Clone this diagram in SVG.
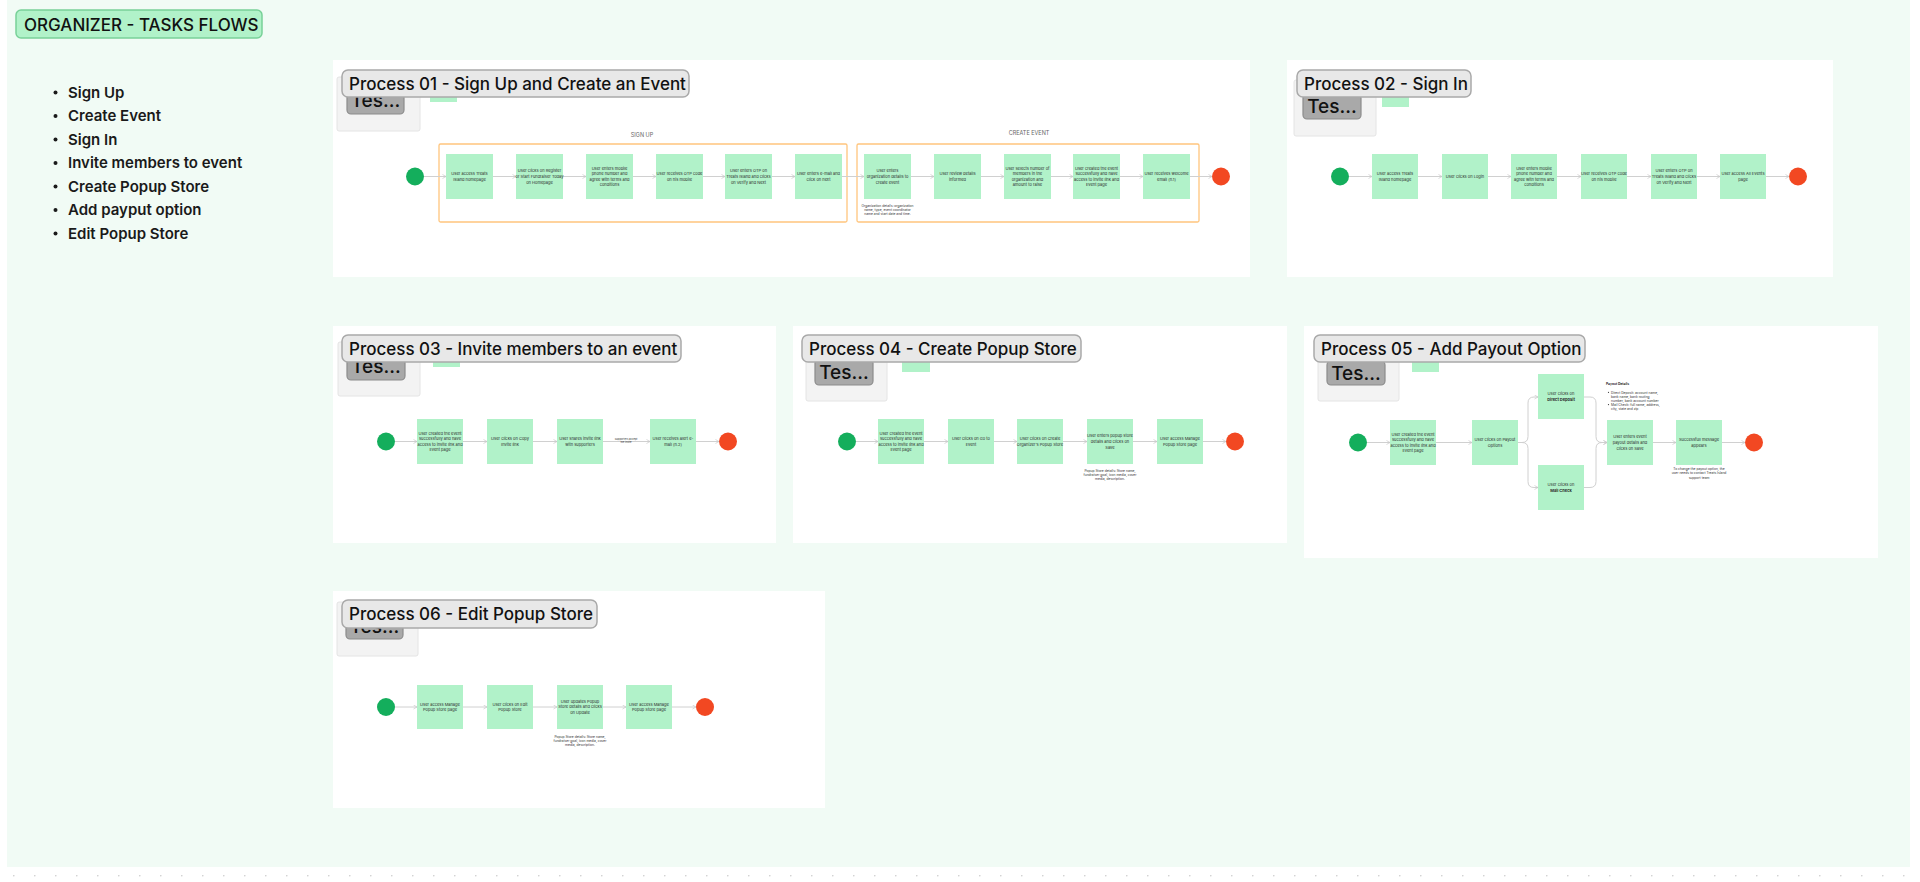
<svg xmlns="http://www.w3.org/2000/svg" width="1920" height="882" viewBox="0 0 1920 882">
<defs>
<marker id="arr" markerWidth="5" markerHeight="5" refX="4" refY="2.5" orient="auto" markerUnits="userSpaceOnUse">
<path d="M0.5,0.5 L4,2.5 L0.5,4.5" fill="none" stroke="#c8c8c8" stroke-width="0.7"/>
</marker>
<pattern id="dots" x="13" y="875" width="21" height="21" patternUnits="userSpaceOnUse">
<circle cx="0.8" cy="0.8" r="0.8" fill="#c9c9c9"/>
</pattern>
</defs>
<style>
text{font-family:Inter,"Noto Sans","Liberation Sans",sans-serif}
.bg{fill:#f1fbf5}
.frame{fill:#ffffff}
.panel{fill:#f3f3f3;stroke:#e4e4e4;stroke-width:1}
.tes{fill:#a9a9a9;stroke:#8c8c8c;stroke-width:1.2}
.tes-t{font-size:19px;font-weight:500;fill:#111;text-anchor:middle}
.mini{fill:#b1f2c9}
.lbl{fill:#e8e8e8;stroke:#a9a9a9;stroke-width:1.5}
.lbl-t{font-size:17px;font-weight:500;fill:#111}
.node{fill:#b1f2c9}
.nt{font-size:4px;fill:#2a2a2a;text-anchor:middle}
.nb{font-weight:700}
.note{font-size:3.3px;fill:#333;text-anchor:middle}
.notel{font-size:3.3px;fill:#333}
.start{fill:#14ae5c}
.end{fill:#f24822}
.conn{fill:none;stroke:#d0d0d0;stroke-width:1;marker-end:url(#arr)}
.grp{fill:none;stroke:#ffc57d;stroke-width:1.3}
.grp-t{font-size:5.5px;fill:#666;text-anchor:middle}
.bul{font-size:15px;font-weight:600;fill:#1a1a1a}
</style>

<rect x="0" y="0" width="1920" height="882" fill="#ffffff"/>
<rect x="0" y="874" width="1920" height="8" fill="url(#dots)"/>
<rect class="bg" x="7" y="0" width="1903" height="867"/>

<g id="title">
<rect x="16" y="10" width="246" height="28" rx="5" fill="#b1f2c9" stroke="#78d198" stroke-width="1.5"/>
<text x="24" y="30.5" font-size="17" font-weight="500" fill="#111">ORGANIZER - TASKS FLOWS</text>
</g>

<g id="task-list">
<circle cx="55.5" cy="92.5" r="2" fill="#1a1a1a"/><text class="bul" x="68" y="97.5">Sign Up</text>
<circle cx="55.5" cy="116" r="2" fill="#1a1a1a"/><text class="bul" x="68" y="121">Create Event</text>
<circle cx="55.5" cy="139.5" r="2" fill="#1a1a1a"/><text class="bul" x="68" y="144.5">Sign In</text>
<circle cx="55.5" cy="163" r="2" fill="#1a1a1a"/><text class="bul" x="68" y="168">Invite members to event</text>
<circle cx="55.5" cy="186.5" r="2" fill="#1a1a1a"/><text class="bul" x="68" y="191.5">Create Popup Store</text>
<circle cx="55.5" cy="210" r="2" fill="#1a1a1a"/><text class="bul" x="68" y="215">Add payput option</text>
<circle cx="55.5" cy="233.5" r="2" fill="#1a1a1a"/><text class="bul" x="68" y="238.5">Edit Popup Store</text>
</g>

<!-- ================= PROCESS 01 ================= -->
<g id="process-01">
<rect class="frame" x="333" y="60" width="917" height="217"/>
<rect class="panel" x="337" y="77" width="83" height="54" rx="2"/>
<rect class="tes" x="347" y="86" width="57" height="28" rx="4"/>
<text class="tes-t" x="375.5" y="107">Tes...</text>
<rect class="mini" x="430" y="90" width="27" height="12"/>
<rect class="lbl" x="342" y="70" width="347" height="27" rx="6"/>
<text class="lbl-t" x="349" y="90">Process 01 - Sign Up and Create an Event</text>
<text class="grp-t" x="642" y="137">SIGN UP</text>
<rect class="grp" x="439" y="144" width="408" height="78" rx="1.5"/>
<text class="grp-t" x="1029" y="135">CREATE EVENT</text>
<rect class="grp" x="857" y="144" width="342" height="78" rx="1.5"/>
</g>
<g id="p01-connectors">
<path class="conn" d="M424,176.5 H446"/>
<path class="conn" d="M493,176.5 H516"/>
<path class="conn" d="M563,176.5 H586"/>
<path class="conn" d="M633,176.5 H656"/>
<path class="conn" d="M703,176.5 H725"/>
<path class="conn" d="M772,176.5 H795"/>
<path class="conn" d="M842,176.5 H864"/>
<path class="conn" d="M911,176.5 H934"/>
<path class="conn" d="M981,176.5 H1004"/>
<path class="conn" d="M1051,176.5 H1073"/>
<path class="conn" d="M1120,176.5 H1143"/>
<path class="conn" d="M1190,176.5 H1212"/>
</g>
<g id="p01-start"><circle class="start" cx="415" cy="176.5" r="9"/></g>
<g id="p01-n1"><rect class="node" x="446" y="154" width="47" height="45"/><text class="nt" y="175.1"><tspan x="469.5">User access Treats</tspan><tspan x="469.5" dy="5.6">Island homepage</tspan></text></g>
<g id="p01-n2"><rect class="node" x="516" y="154" width="47" height="45"/><text class="nt" y="172.3"><tspan x="539.5">User clicks on Register</tspan><tspan x="539.5" dy="5.6">or Start Fundraiser Today</tspan><tspan x="539.5" dy="5.6">on Homepage</tspan></text></g>
<g id="p01-n3"><rect class="node" x="586" y="154" width="47" height="45"/><text class="nt" y="169.5"><tspan x="609.5">User enters mobile</tspan><tspan x="609.5" dy="5.6">phone number and</tspan><tspan x="609.5" dy="5.6">agree with terms and</tspan><tspan x="609.5" dy="5.6">conditions</tspan></text></g>
<g id="p01-n4"><rect class="node" x="656" y="154" width="47" height="45"/><text class="nt" y="175.1"><tspan x="679.5">User receives OTP code</tspan><tspan x="679.5" dy="5.6">on his mobile</tspan></text></g>
<g id="p01-n5"><rect class="node" x="725" y="154" width="47" height="45"/><text class="nt" y="172.3"><tspan x="748.5">User enters OTP on</tspan><tspan x="748.5" dy="5.6">Treats Island and clicks</tspan><tspan x="748.5" dy="5.6">on Verify and Next</tspan></text></g>
<g id="p01-n6"><rect class="node" x="795" y="154" width="47" height="45"/><text class="nt" y="175.1"><tspan x="818.5">User enters e-mail and</tspan><tspan x="818.5" dy="5.6">click on next</tspan></text></g>
<g id="p01-n7"><rect class="node" x="864" y="154" width="47" height="45"/><text class="nt" y="172.3"><tspan x="887.5">User enters</tspan><tspan x="887.5" dy="5.6">organization details to</tspan><tspan x="887.5" dy="5.6">create event</tspan></text>
<text class="note" y="206.5"><tspan x="887.5">Organization details: organization</tspan><tspan x="887.5" dy="4.3">name, type, event coordinator</tspan><tspan x="887.5" dy="4.3">name and start date and time.</tspan></text></g>
<g id="p01-n8"><rect class="node" x="934" y="154" width="47" height="45"/><text class="nt" y="175.1"><tspan x="957.5">User review details</tspan><tspan x="957.5" dy="5.6">informed</tspan></text></g>
<g id="p01-n9"><rect class="node" x="1004" y="154" width="47" height="45"/><text class="nt" y="169.5"><tspan x="1027.5">User selects number of</tspan><tspan x="1027.5" dy="5.6">members in the</tspan><tspan x="1027.5" dy="5.6">organization and</tspan><tspan x="1027.5" dy="5.6">amount to raise</tspan></text></g>
<g id="p01-n10"><rect class="node" x="1073" y="154" width="47" height="45"/><text class="nt" y="169.5"><tspan x="1096.5">User created the event</tspan><tspan x="1096.5" dy="5.6">successfully and have</tspan><tspan x="1096.5" dy="5.6">access to invite link and</tspan><tspan x="1096.5" dy="5.6">Event page</tspan></text></g>
<g id="p01-n11"><rect class="node" x="1143" y="154" width="47" height="45"/><text class="nt" y="175.1"><tspan x="1166.5">User receives welcome</tspan><tspan x="1166.5" dy="5.6">email (n.1)</tspan></text></g>
<g id="p01-end"><circle class="end" cx="1221" cy="176.5" r="9"/></g>

<!-- ================= PROCESS 02 ================= -->
<g id="process-02">
<rect class="frame" x="1287" y="60" width="546" height="217"/>
<rect class="panel" x="1294" y="80" width="82" height="56" rx="2"/>
<rect class="tes" x="1303" y="94" width="58" height="25" rx="4"/>
<text class="tes-t" x="1332" y="113">Tes...</text>
<rect class="mini" x="1382" y="92" width="27" height="15"/>
<rect class="lbl" x="1297" y="70" width="174" height="27" rx="6"/>
<text class="lbl-t" x="1304" y="90">Process 02 - Sign In</text>
</g>
<g id="p02-connectors">
<path class="conn" d="M1349,176.5 H1372"/>
<path class="conn" d="M1418,176.5 H1442"/>
<path class="conn" d="M1488,176.5 H1511"/>
<path class="conn" d="M1557,176.5 H1581"/>
<path class="conn" d="M1627,176.5 H1651"/>
<path class="conn" d="M1697,176.5 H1720"/>
<path class="conn" d="M1766,176.5 H1789"/>
</g>
<g id="p02-start"><circle class="start" cx="1340" cy="176.5" r="9"/></g>
<g id="p02-n1"><rect class="node" x="1372" y="154" width="46" height="45"/><text class="nt" y="175.1"><tspan x="1395">User access Treats</tspan><tspan x="1395" dy="5.6">Island homepage</tspan></text></g>
<g id="p02-n2"><rect class="node" x="1442" y="154" width="46" height="45"/><text class="nt" y="177.9"><tspan x="1465">User clicks on Login</tspan></text></g>
<g id="p02-n3"><rect class="node" x="1511" y="154" width="46" height="45"/><text class="nt" y="169.5"><tspan x="1534">User enters mobile</tspan><tspan x="1534" dy="5.6">phone number and</tspan><tspan x="1534" dy="5.6">agree with terms and</tspan><tspan x="1534" dy="5.6">conditions</tspan></text></g>
<g id="p02-n4"><rect class="node" x="1581" y="154" width="46" height="45"/><text class="nt" y="175.1"><tspan x="1604">User receives OTP code</tspan><tspan x="1604" dy="5.6">on his mobile</tspan></text></g>
<g id="p02-n5"><rect class="node" x="1651" y="154" width="46" height="45"/><text class="nt" y="172.3"><tspan x="1674">User enters OTP on</tspan><tspan x="1674" dy="5.6">Treats Island and clicks</tspan><tspan x="1674" dy="5.6">on Verify and Next</tspan></text></g>
<g id="p02-n6"><rect class="node" x="1720" y="154" width="46" height="45"/><text class="nt" y="175.1"><tspan x="1743">User access All Events</tspan><tspan x="1743" dy="5.6">page</tspan></text></g>
<g id="p02-end"><circle class="end" cx="1798" cy="176.5" r="9"/></g>

<!-- ================= PROCESS 03 ================= -->
<g id="process-03">
<rect class="frame" x="333" y="326" width="443" height="217"/>
<rect class="panel" x="338" y="342" width="82" height="54" rx="2"/>
<rect class="tes" x="347" y="352" width="58" height="28" rx="4"/>
<text class="tes-t" x="376" y="373">Tes...</text>
<rect class="mini" x="433" y="352" width="27" height="15"/>
<rect class="lbl" x="342" y="335" width="339" height="27" rx="6"/>
<text class="lbl-t" x="349" y="355">Process 03 - Invite members to an event</text>
</g>
<g id="p03-connectors">
<path class="conn" d="M395,441.5 H417"/>
<path class="conn" d="M463,441.5 H487"/>
<path class="conn" d="M533,441.5 H557"/>
<path class="conn" d="M603,441.5 H650"/>
<text class="note" font-size="2.6" y="440"><tspan x="626" font-size="2.6">Supporters accept</tspan><tspan x="626" dy="3.2" font-size="2.6">the invite</tspan></text>
<path class="conn" d="M696,441.5 H719"/>
</g>
<g id="p03-start"><circle class="start" cx="386" cy="441.5" r="9"/></g>
<g id="p03-n1"><rect class="node" x="417" y="419" width="46" height="45"/><text class="nt" y="434.5"><tspan x="440">User created the event</tspan><tspan x="440" dy="5.6">successfully and have</tspan><tspan x="440" dy="5.6">access to invite link and</tspan><tspan x="440" dy="5.6">Event page</tspan></text></g>
<g id="p03-n2"><rect class="node" x="487" y="419" width="46" height="45"/><text class="nt" y="440.1"><tspan x="510">User clicks on Copy</tspan><tspan x="510" dy="5.6">Invite link</tspan></text></g>
<g id="p03-n3"><rect class="node" x="557" y="419" width="46" height="45"/><text class="nt" y="440.1"><tspan x="580">User shares invite link</tspan><tspan x="580" dy="5.6">with supporters</tspan></text></g>
<g id="p03-n4"><rect class="node" x="650" y="419" width="46" height="45"/><text class="nt" y="440.1"><tspan x="673">User receives alert e-</tspan><tspan x="673" dy="5.6">mail (n.2)</tspan></text></g>
<g id="p03-end"><circle class="end" cx="728" cy="441.5" r="9"/></g>

<!-- ================= PROCESS 04 ================= -->
<g id="process-04">
<rect class="frame" x="793" y="326" width="494" height="217"/>
<rect class="panel" x="806" y="345" width="81" height="56" rx="2"/>
<rect class="tes" x="815" y="359" width="58" height="26" rx="4"/>
<text class="tes-t" x="844" y="379">Tes...</text>
<rect class="mini" x="902" y="355" width="28" height="17"/>
<rect class="lbl" x="802" y="335" width="279" height="27" rx="6"/>
<text class="lbl-t" x="809" y="355">Process 04 - Create Popup Store</text>
</g>
<g id="p04-connectors">
<path class="conn" d="M856,441.5 H878"/>
<path class="conn" d="M924,441.5 H948"/>
<path class="conn" d="M994,441.5 H1017"/>
<path class="conn" d="M1063,441.5 H1087"/>
<path class="conn" d="M1133,441.5 H1157"/>
<path class="conn" d="M1203,441.5 H1226"/>
</g>
<g id="p04-start"><circle class="start" cx="847" cy="441.5" r="9"/></g>
<g id="p04-n1"><rect class="node" x="878" y="419" width="46" height="45"/><text class="nt" y="434.5"><tspan x="901">User created the event</tspan><tspan x="901" dy="5.6">successfully and have</tspan><tspan x="901" dy="5.6">access to invite link and</tspan><tspan x="901" dy="5.6">Event page</tspan></text></g>
<g id="p04-n2"><rect class="node" x="948" y="419" width="46" height="45"/><text class="nt" y="440.1"><tspan x="971">User clicks on Go to</tspan><tspan x="971" dy="5.6">Event</tspan></text></g>
<g id="p04-n3"><rect class="node" x="1017" y="419" width="46" height="45"/><text class="nt" y="440.1"><tspan x="1040">User clicks on Create</tspan><tspan x="1040" dy="5.6">Organizer's Popup Store</tspan></text></g>
<g id="p04-n4"><rect class="node" x="1087" y="419" width="46" height="45"/><text class="nt" y="437.3"><tspan x="1110">User enters popup store</tspan><tspan x="1110" dy="5.6">details and clicks on</tspan><tspan x="1110" dy="5.6">Save</tspan></text>
<text class="note" y="471.5"><tspan x="1110">Popup Store details: Store name,</tspan><tspan x="1110" dy="4.3">fundraiser goal, icon media, cover</tspan><tspan x="1110" dy="4.3">media, description.</tspan></text></g>
<g id="p04-n5"><rect class="node" x="1157" y="419" width="46" height="45"/><text class="nt" y="440.1"><tspan x="1180">User access Manage</tspan><tspan x="1180" dy="5.6">Popup Store page</tspan></text></g>
<g id="p04-end"><circle class="end" cx="1235" cy="441.5" r="9"/></g>

<!-- ================= PROCESS 05 ================= -->
<g id="process-05">
<rect class="frame" x="1304" y="326" width="574" height="232"/>
<rect class="panel" x="1318" y="345" width="81" height="56" rx="2"/>
<rect class="tes" x="1327" y="361" width="58" height="24" rx="4"/>
<text class="tes-t" x="1356" y="380">Tes...</text>
<rect class="mini" x="1412" y="355" width="27" height="17"/>
<rect class="lbl" x="1314" y="335" width="271" height="27" rx="6"/>
<text class="lbl-t" x="1321" y="355">Process 05 - Add Payout Option</text>
</g>
<g id="p05-connectors">
<path class="conn" d="M1367,442.5 H1390"/>
<path class="conn" d="M1436,442.5 H1472"/>
<path class="conn" d="M1518,442.5 H1522 Q1528,442.5 1528,436.5 V403 Q1528,397 1534,397 H1538"/>
<path class="conn" d="M1518,442.5 H1522 Q1528,442.5 1528,448.5 V481.5 Q1528,487.5 1534,487.5 H1538"/>
<path class="conn" d="M1584,397 H1590 Q1596,397 1596,403 V436.5 Q1596,442.5 1602,442.5 H1607"/>
<path class="conn" d="M1584,487.5 H1590 Q1596,487.5 1596,481.5 V448.5 Q1596,442.5 1602,442.5 H1607"/>
<path class="conn" d="M1653,442.5 H1676"/>
<path class="conn" d="M1722,442.5 H1745"/>
</g>
<g id="p05-start"><circle class="start" cx="1358" cy="442.5" r="9"/></g>
<g id="p05-n1"><rect class="node" x="1390" y="420" width="46" height="45"/><text class="nt" y="435.5"><tspan x="1413">User created the event</tspan><tspan x="1413" dy="5.6">successfully and have</tspan><tspan x="1413" dy="5.6">access to invite link and</tspan><tspan x="1413" dy="5.6">Event page</tspan></text></g>
<g id="p05-n2"><rect class="node" x="1472" y="420" width="46" height="45"/><text class="nt" y="441.1"><tspan x="1495">User clicks on Payout</tspan><tspan x="1495" dy="5.6">Options</tspan></text></g>
<g id="p05-n3"><rect class="node" x="1538" y="374" width="46" height="45"/><text class="nt" y="395.1"><tspan x="1561">User clicks on</tspan><tspan class="nb" x="1561" dy="5.6">Direct Deposit</tspan></text></g>
<g id="p05-n4"><rect class="node" x="1538" y="465" width="46" height="45"/><text class="nt" y="486.1"><tspan x="1561">User clicks on</tspan><tspan class="nb" x="1561" dy="5.6">Mail Check</tspan></text></g>
<g id="p05-notes">
<text class="notel" x="1606" y="385" font-weight="700">Payout Details</text>
<circle cx="1608.5" cy="392.3" r="0.6" fill="#333"/>
<text class="notel" y="393.5"><tspan x="1611">Direct Deposit: account name,</tspan><tspan x="1611" dy="4.1">bank name, bank routing</tspan><tspan x="1611" dy="4.1">number, bank account number</tspan></text>
<circle cx="1608.5" cy="404.6" r="0.6" fill="#333"/>
<text class="notel" y="405.8"><tspan x="1611">Mail Check: full name, address,</tspan><tspan x="1611" dy="4.1">city, state and zip</tspan></text>
</g>
<g id="p05-n5"><rect class="node" x="1607" y="420" width="46" height="45"/><text class="nt" y="438.3"><tspan x="1630">User enters event</tspan><tspan x="1630" dy="5.6">payout details and</tspan><tspan x="1630" dy="5.6">clicks on Save</tspan></text></g>
<g id="p05-n6"><rect class="node" x="1676" y="420" width="46" height="45"/><text class="nt" y="441.1"><tspan x="1699">Successfull message</tspan><tspan x="1699" dy="5.6">appears</tspan></text>
<text class="note" y="470"><tspan x="1699">To change the payout option, the</tspan><tspan x="1699" dy="4.3">user needs to contact Treats Island</tspan><tspan x="1699" dy="4.3">support team</tspan></text></g>
<g id="p05-end"><circle class="end" cx="1754" cy="442.5" r="9"/></g>

<!-- ================= PROCESS 06 ================= -->
<g id="process-06">
<rect class="frame" x="333" y="591" width="492" height="217"/>
<rect class="panel" x="337" y="602" width="81" height="54" rx="2"/>
<rect class="tes" x="346" y="613" width="57" height="26" rx="4"/>
<text class="tes-t" x="374.5" y="633">Tes...</text>
<rect class="lbl" x="342" y="600" width="255" height="28" rx="6"/>
<text class="lbl-t" x="349" y="620">Process 06 - Edit Popup Store</text>
</g>
<g id="p06-connectors">
<path class="conn" d="M395,707 H417"/>
<path class="conn" d="M463,707 H487"/>
<path class="conn" d="M533,707 H557"/>
<path class="conn" d="M603,707 H626"/>
<path class="conn" d="M672,707 H696"/>
</g>
<g id="p06-start"><circle class="start" cx="386" cy="707" r="9"/></g>
<g id="p06-n1"><rect class="node" x="417" y="685" width="46" height="44"/><text class="nt" y="705.6"><tspan x="440">User access Manage</tspan><tspan x="440" dy="5.6">Popup Store page</tspan></text></g>
<g id="p06-n2"><rect class="node" x="487" y="685" width="46" height="44"/><text class="nt" y="705.6"><tspan x="510">User clicks on Edit</tspan><tspan x="510" dy="5.6">Popup Store</tspan></text></g>
<g id="p06-n3"><rect class="node" x="557" y="685" width="46" height="44"/><text class="nt" y="702.8"><tspan x="580">User updates Popup</tspan><tspan x="580" dy="5.6">Store details and clicks</tspan><tspan x="580" dy="5.6">on Update</tspan></text>
<text class="note" y="737.5"><tspan x="580">Popup Store details: Store name,</tspan><tspan x="580" dy="4.3">fundraiser goal, icon media, cover</tspan><tspan x="580" dy="4.3">media, description.</tspan></text></g>
<g id="p06-n4"><rect class="node" x="626" y="685" width="46" height="44"/><text class="nt" y="705.6"><tspan x="649">User access Manage</tspan><tspan x="649" dy="5.6">Popup Store page</tspan></text></g>
<g id="p06-end"><circle class="end" cx="705" cy="707" r="9"/></g>
</svg>
